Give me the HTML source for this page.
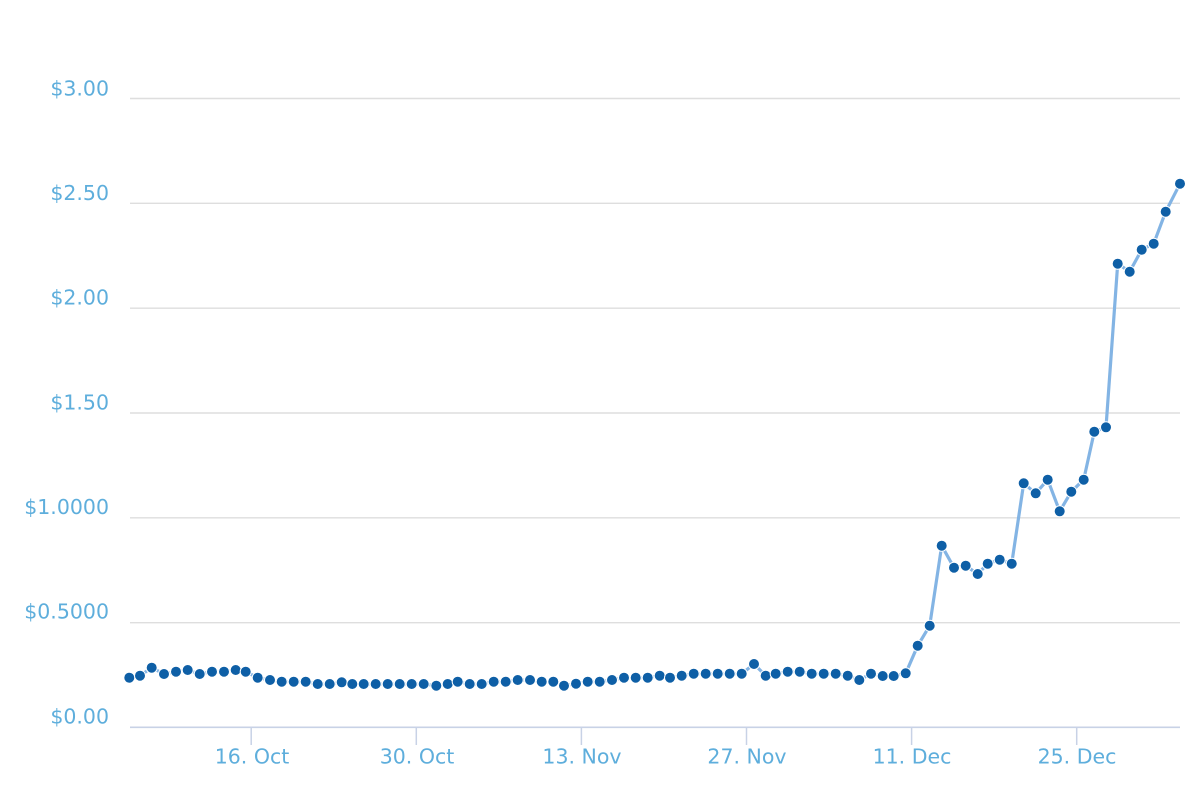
<!DOCTYPE html>
<html>
<head>
<meta charset="utf-8">
<style>
html,body{margin:0;padding:0;background:#fff;}
svg{display:block;}
text{font-family:"DejaVu Sans","Liberation Sans",sans-serif;font-size:20.5px;fill:#5eaedc;}
</style>
</head>
<body>
<svg width="1200" height="800" viewBox="0 0 1200 800" xmlns="http://www.w3.org/2000/svg">
<rect width="1200" height="800" fill="#fff"/>
<g stroke="#dedede" stroke-width="1.4">
<line x1="130" y1="98.5" x2="1180" y2="98.5"/>
<line x1="130" y1="203.3" x2="1180" y2="203.3"/>
<line x1="130" y1="308.2" x2="1180" y2="308.2"/>
<line x1="130" y1="413" x2="1180" y2="413"/>
<line x1="130" y1="517.8" x2="1180" y2="517.8"/>
<line x1="130" y1="622.7" x2="1180" y2="622.7"/>
</g>
<line x1="130" y1="727.3" x2="1180" y2="727.3" stroke="#c8d2e6" stroke-width="1.6"/>
<g stroke="#c8d2e6" stroke-width="1.5">
<line x1="251.2" y1="727" x2="251.2" y2="745"/>
<line x1="416.3" y1="727" x2="416.3" y2="745"/>
<line x1="581.4" y1="727" x2="581.4" y2="745"/>
<line x1="746.5" y1="727" x2="746.5" y2="745"/>
<line x1="911.6" y1="727" x2="911.6" y2="745"/>
<line x1="1076.7" y1="727" x2="1076.7" y2="745"/>
</g>
<g text-anchor="end">
<text x="109" y="95.5">$3.00</text>
<text x="109" y="200">$2.50</text>
<text x="109" y="304.7">$2.00</text>
<text x="109" y="409.5">$1.50</text>
<text x="109" y="514">$1.0000</text>
<text x="109" y="618.7">$0.5000</text>
<text x="109" y="723.3">$0.00</text>
</g>
<g text-anchor="middle">
<text x="252" y="763.5">16. Oct</text>
<text x="417" y="763.5">30. Oct</text>
<text x="582" y="763.5">13. Nov</text>
<text x="747" y="763.5">27. Nov</text>
<text x="912" y="763.5">11. Dec</text>
<text x="1077" y="763.5">25. Dec</text>
</g>
<polyline fill="none" stroke="#83b4e4" stroke-width="3.2" stroke-linejoin="round" stroke-linecap="round" points="129.3,677.7 140,675.7 151.7,667.7 164,674 176,671.7 187.7,670 199.7,674 212,671.7 224,671.7 235.7,670 245.7,671.7 257.7,677.7 270,680 281.7,681.7 293.7,681.7 305.7,681.7 317.7,684 329.7,684 341.7,682.3 352.3,684 363.7,684 375.7,684 387.7,684 399.7,684 411.7,684 423.7,684 436.3,685.7 447.7,684 457.7,681.7 469.7,684 481.7,684 493.7,681.7 505.7,681.7 517.7,680 530,680 541.7,681.7 553.3,681.7 564,685.7 576,683.7 587.7,681.7 599.7,681.7 612,680 624,677.7 635.7,677.7 647.7,677.7 659.7,675.7 670,677.7 681.7,675.7 693.7,673.7 705.7,673.7 717.7,673.7 729.7,673.7 741.7,673.7 754,664 765.7,675.7 775.7,673.7 787.7,671.7 799.7,671.7 811.7,673.7 823.7,673.7 835.7,673.7 847.7,675.7 859.3,680 871,673.7 882.7,676 893.7,676 905.7,673.3 917.7,645.7 929.7,625.7 941.7,545.7 954,567.7 965.7,565.7 977.7,574 987.7,563.7 999.7,559.7 1011.7,563.7 1023.7,483.3 1035.7,493.3 1047.7,479.7 1059.7,511.3 1071.3,491.7 1083.7,479.7 1094.3,431.7 1106,427.3 1117.7,263.7 1129.7,271.7 1141.7,249.7 1153.7,243.7 1165.7,211.7 1180,183.7"/>
<g fill="#0e5fa6" stroke="#fff" stroke-width="1">
<circle cx="129.3" cy="677.7" r="5.5"/><circle cx="140" cy="675.7" r="5.5"/><circle cx="151.7" cy="667.7" r="5.5"/><circle cx="164" cy="674" r="5.5"/><circle cx="176" cy="671.7" r="5.5"/><circle cx="187.7" cy="670" r="5.5"/><circle cx="199.7" cy="674" r="5.5"/><circle cx="212" cy="671.7" r="5.5"/><circle cx="224" cy="671.7" r="5.5"/><circle cx="235.7" cy="670" r="5.5"/>
<circle cx="245.7" cy="671.7" r="5.5"/><circle cx="257.7" cy="677.7" r="5.5"/><circle cx="270" cy="680" r="5.5"/><circle cx="281.7" cy="681.7" r="5.5"/><circle cx="293.7" cy="681.7" r="5.5"/><circle cx="305.7" cy="681.7" r="5.5"/><circle cx="317.7" cy="684" r="5.5"/><circle cx="329.7" cy="684" r="5.5"/><circle cx="341.7" cy="682.3" r="5.5"/><circle cx="352.3" cy="684" r="5.5"/>
<circle cx="363.7" cy="684" r="5.5"/><circle cx="375.7" cy="684" r="5.5"/><circle cx="387.7" cy="684" r="5.5"/><circle cx="399.7" cy="684" r="5.5"/><circle cx="411.7" cy="684" r="5.5"/><circle cx="423.7" cy="684" r="5.5"/><circle cx="436.3" cy="685.7" r="5.5"/><circle cx="447.7" cy="684" r="5.5"/><circle cx="457.7" cy="681.7" r="5.5"/><circle cx="469.7" cy="684" r="5.5"/>
<circle cx="481.7" cy="684" r="5.5"/><circle cx="493.7" cy="681.7" r="5.5"/><circle cx="505.7" cy="681.7" r="5.5"/><circle cx="517.7" cy="680" r="5.5"/><circle cx="530" cy="680" r="5.5"/><circle cx="541.7" cy="681.7" r="5.5"/><circle cx="553.3" cy="681.7" r="5.5"/><circle cx="564" cy="685.7" r="5.5"/><circle cx="576" cy="683.7" r="5.5"/><circle cx="587.7" cy="681.7" r="5.5"/>
<circle cx="599.7" cy="681.7" r="5.5"/><circle cx="612" cy="680" r="5.5"/><circle cx="624" cy="677.7" r="5.5"/><circle cx="635.7" cy="677.7" r="5.5"/><circle cx="647.7" cy="677.7" r="5.5"/><circle cx="659.7" cy="675.7" r="5.5"/><circle cx="670" cy="677.7" r="5.5"/><circle cx="681.7" cy="675.7" r="5.5"/><circle cx="693.7" cy="673.7" r="5.5"/><circle cx="705.7" cy="673.7" r="5.5"/>
<circle cx="717.7" cy="673.7" r="5.5"/><circle cx="729.7" cy="673.7" r="5.5"/><circle cx="741.7" cy="673.7" r="5.5"/><circle cx="754" cy="664" r="5.5"/><circle cx="765.7" cy="675.7" r="5.5"/><circle cx="775.7" cy="673.7" r="5.5"/><circle cx="787.7" cy="671.7" r="5.5"/><circle cx="799.7" cy="671.7" r="5.5"/><circle cx="811.7" cy="673.7" r="5.5"/><circle cx="823.7" cy="673.7" r="5.5"/>
<circle cx="835.7" cy="673.7" r="5.5"/><circle cx="847.7" cy="675.7" r="5.5"/><circle cx="859.3" cy="680" r="5.5"/><circle cx="871" cy="673.7" r="5.5"/><circle cx="882.7" cy="676" r="5.5"/><circle cx="893.7" cy="676" r="5.5"/><circle cx="905.7" cy="673.3" r="5.5"/><circle cx="917.7" cy="645.7" r="5.5"/><circle cx="929.7" cy="625.7" r="5.5"/><circle cx="941.7" cy="545.7" r="5.5"/>
<circle cx="954" cy="567.7" r="5.5"/><circle cx="965.7" cy="565.7" r="5.5"/><circle cx="977.7" cy="574" r="5.5"/><circle cx="987.7" cy="563.7" r="5.5"/><circle cx="999.7" cy="559.7" r="5.5"/><circle cx="1011.7" cy="563.7" r="5.5"/><circle cx="1023.7" cy="483.3" r="5.5"/><circle cx="1035.7" cy="493.3" r="5.5"/><circle cx="1047.7" cy="479.7" r="5.5"/><circle cx="1059.7" cy="511.3" r="5.5"/>
<circle cx="1071.3" cy="491.7" r="5.5"/><circle cx="1083.7" cy="479.7" r="5.5"/><circle cx="1094.3" cy="431.7" r="5.5"/><circle cx="1106" cy="427.3" r="5.5"/><circle cx="1117.7" cy="263.7" r="5.5"/><circle cx="1129.7" cy="271.7" r="5.5"/><circle cx="1141.7" cy="249.7" r="5.5"/><circle cx="1153.7" cy="243.7" r="5.5"/><circle cx="1165.7" cy="211.7" r="5.5"/><circle cx="1180" cy="183.7" r="5.5"/>
</g>
</svg>
</body>
</html>
